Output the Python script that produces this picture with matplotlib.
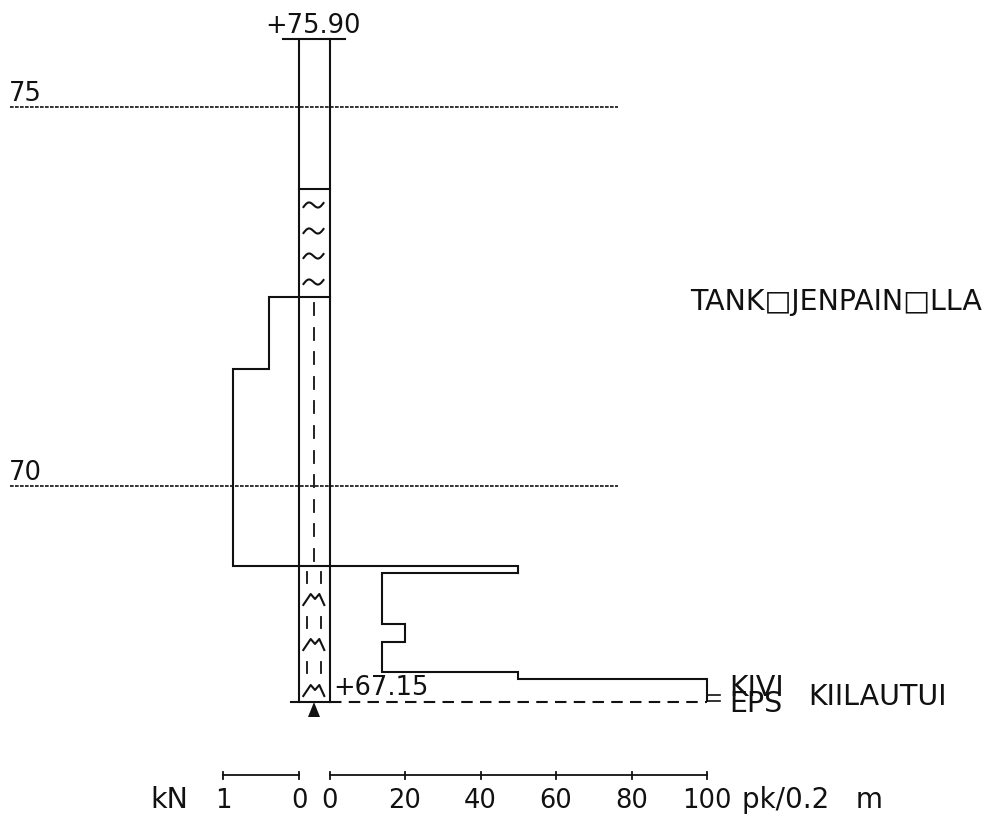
import numpy as np
import matplotlib
matplotlib.use("Agg")
import matplotlib.pyplot as plt

W, H = 988, 815
TOP_LEVEL = 75.90
BOTTOM_LEVEL = 67.15
REF_LEVELS = [75, 70]
SOIL_BREAKS = [73.92, 72.50, 68.94]

# Weight sounding profile: load in kN (left of column)
kn_levels = [72.50, 71.54, 68.94]
kn_values = [0.40, 0.87, 0.87]
# Half-turns per 0.2 m (right of column)
pk_levels = [68.94, 68.85, 68.18, 67.94, 67.55, 67.45, 67.15]
pk_values = [50, 14, 20, 14, 50, 100, 100]

pk_ticks = [0, 20, 40, 60, 80, 100]
kn_ticks = [1, 0]

plt.rcParams["font.family"] = ["DejaVu Sans"]

fig = plt.figure(figsize=(W / 100, H / 100), dpi=100)

# y: 75 -> px 107, 70 -> px 486
ppm = (486 - 107) / 5
y_top = 75 + 107 / ppm
y_bot = 75 - (H - 107) / ppm

pk_scale = (707 - 329.5) / 100
kn_scale = 76.0

ax_pk = fig.add_axes([0, 0, 1, 1])
ax_pk.set_xlim(-329.5 / pk_scale, (W - 329.5) / pk_scale)
ax_pk.set_ylim(y_bot, y_top)
ax_pk.axis("off")

ax_kn = fig.add_axes([0, 0, 1, 1], sharey=ax_pk)
ax_kn.set_xlim(299 / kn_scale, -(W - 299) / kn_scale)
ax_kn.axis("off")
ax_kn.patch.set_alpha(0)

ov = fig.add_axes([0, 0, 1, 1])
ov.set_xlim(0, W)
ov.set_ylim(H, 0)
ov.axis("off")
ov.patch.set_alpha(0)

LW = 1.5
K = "#111111"

def lev(e):
    return 107 + (75 - e) * ppm

# reference level lines
for lv in REF_LEVELS:
    ov.plot([10, 618], [lev(lv)] * 2, color=K, lw=1.2, ls=(0, (2.2, 0.8)))

# column
ov.plot([299, 299], [lev(TOP_LEVEL), lev(BOTTOM_LEVEL)], color=K, lw=LW)
ov.plot([329.5, 329.5], [lev(TOP_LEVEL), lev(BOTTOM_LEVEL)], color=K, lw=LW)
ov.plot([283, 345], [lev(TOP_LEVEL)] * 2, color=K, lw=LW)
ov.plot([291, 329.5], [lev(BOTTOM_LEVEL)] * 2, color=K, lw=LW)
ov.plot([329.5, 707], [lev(BOTTOM_LEVEL)] * 2, color=K, lw=LW, ls=(0, (5.5, 3.5)))
ov.plot([299, 329.5], [lev(SOIL_BREAKS[0])] * 2, color=K, lw=LW)
ov.plot([299, 329.5], [lev(SOIL_BREAKS[1])] * 2, color=K, lw=LW)
ov.plot([299, 329.5], [lev(SOIL_BREAKS[2])] * 2, color=K, lw=LW)

# kN profile
kx = [0, kn_values[0], kn_values[0], kn_values[1], kn_values[2], 0]
ky = [kn_levels[0], kn_levels[0], kn_levels[1], kn_levels[1], kn_levels[2], kn_levels[2]]
ax_kn.plot(kx, ky, color=K, lw=LW, solid_joinstyle="miter")

# pk profile
ax_pk.plot([0, pk_values[0], pk_values[0]], [pk_levels[0], pk_levels[0], pk_levels[1]],
           color=K, lw=LW, solid_joinstyle="miter")
px = [pk_values[0]]
py = [pk_levels[1]]
for i in range(1, len(pk_values) - 1):
    px += [pk_values[i], pk_values[i]]
    py += [pk_levels[i], pk_levels[i + 1]]
px.append(pk_values[-1])
py.append(pk_levels[-1] + 0.02)
ax_pk.plot(px, py, color=K, lw=LW, solid_joinstyle="miter")
ov.plot([707, 720], [695, 695], color=K, lw=1.2)
ov.plot([707, 720], [700.5, 700.5], color=K, lw=1.2)

# soil symbols
t = np.linspace(-1, 1, 21)
for yc in [205, 231, 256, 282]:
    ov.plot(313.5 + 10 * t, yc + 3.5 * np.sin(t * np.pi) - 2 * t, color=K, lw=1.5)
for y0 in np.arange(303, 560, 24.6):
    ov.plot([313.5, 313.5], [y0, y0 + 12], color=K, lw=1.3)
for y0 in [572, 617, 662]:
    for x0 in [306.5, 320.5]:
        ov.plot([x0, x0], [y0, y0 + 11], color=K, lw=1.3)
for ybase in [605, 650, 696]:
    ov.plot([303.3, 310.7, 315, 319.3, 324.3],
            [ybase, ybase - 11, ybase - 6, ybase - 11, ybase], color=K, lw=1.5)
ov.fill([314, 308, 320], [702, 717, 717], color=K, lw=0)

# scale bars
ybar = 775
BASE = 808
FS = 18.5
CAPS = 20.5
ov.plot([223, 299], [ybar, ybar], color=K, lw=1.3)
ov.plot([329.5, 707], [ybar, ybar], color=K, lw=1.3)
for v in kn_ticks:
    x = 299 - v * kn_scale
    ov.plot([x, x], [ybar - 3.5, ybar + 3.5], color=K, lw=1.3)
    ov.text(x, BASE, str(v), ha="center", va="baseline", fontsize=FS, color=K)
for v in pk_ticks:
    x = 329.5 + v * pk_scale
    ov.plot([x, x], [ybar - 3.5, ybar + 3.5], color=K, lw=1.3)
    ov.text(x, BASE, str(v), ha="center", va="baseline", fontsize=FS, color=K)

def label(x, y, s, ha="left", fs=FS):
    ov.text(x, y, s, ha=ha, va="baseline", fontsize=fs, color=K)

label(9, 101, "75")
label(9, 480, "70")
label(265, 33, "+75.90")
label(333, 695, "+67.15")
label(690, 310, "TANK\u25a1JENPAIN\u25a1LLA", fs=CAPS)
label(729, 696, "KIVI", fs=CAPS)
label(729, 712, "EPS", fs=CAPS)
label(808, 705, "KIILAUTUI", fs=CAPS)
label(150, BASE, "kN", fs=CAPS)
label(742, BASE, "pk/0.2   m", fs=20)

fig.savefig("out.png", dpi=100)
